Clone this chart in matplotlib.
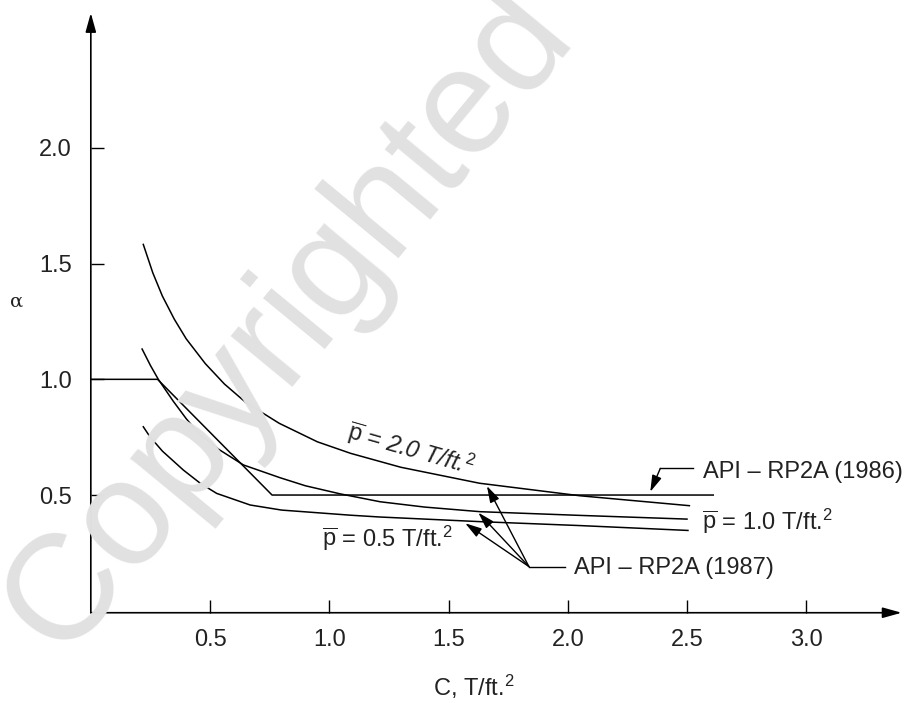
import matplotlib
matplotlib.use("Agg")
import matplotlib.pyplot as plt

plt.rcParams["font.family"] = ["Liberation Sans", "DejaVu Sans"]
plt.rcParams["mathtext.fontset"] = "custom"
plt.rcParams["mathtext.rm"] = "Liberation Sans"
plt.rcParams["mathtext.it"] = "Liberation Sans:italic"
plt.rcParams["mathtext.bf"] = "Liberation Sans:bold"

# Adhesion factor alpha versus undrained shear strength C (T/ft^2)
c_p20 = [0.22, 0.26, 0.30, 0.35, 0.40, 0.48, 0.56, 0.65, 0.79, 0.95, 1.09, 1.30, 1.63, 2.05, 2.51]
a_p20 = [1.583, 1.46, 1.36, 1.26, 1.175, 1.068, 0.98, 0.90, 0.81, 0.73, 0.68, 0.62, 0.551, 0.497, 0.454]

c_p10 = [0.215, 0.25, 0.283, 0.346, 0.40, 0.458, 0.54, 0.64, 0.793, 0.90, 1.046, 1.213, 1.40, 1.633, 2.052, 2.50]
a_p10 = [1.131, 1.06, 1.0, 0.905, 0.83, 0.76, 0.695, 0.630, 0.575, 0.54, 0.505, 0.471, 0.448, 0.428, 0.412, 0.396]

c_p05 = [0.22, 0.248, 0.30, 0.388, 0.46, 0.528, 0.668, 0.80, 1.087, 1.213, 1.633, 2.052, 2.504]
a_p05 = [0.795, 0.752, 0.69, 0.608, 0.55, 0.507, 0.457, 0.435, 0.413, 0.405, 0.385, 0.368, 0.347]

# API RP2A (1986) piecewise criterion
c_api86 = [0.0, 0.28, 0.76, 2.61]
a_api86 = [1.0, 1.0, 0.5, 0.5]

x_ticks = [0.5, 1.0, 1.5, 2.0, 2.5, 3.0]
y_ticks = [0.5, 1.0, 1.5, 2.0]

fig = plt.figure(figsize=(9.1, 7.03), dpi=100)
ax = fig.add_axes([0.0998, 0.1284, 0.891, 0.8531])
ax.set_xlim(0, 3.40)
ax.set_ylim(-0.0086, 2.583)

# faint watermark behind the plot
fig.text(288 / 910, 1 - 322 / 703, "Copyrighted", fontsize=108, color="#e1e1e1",
         rotation=50.5, ha="center", va="center", zorder=0,
         family="Liberation Sans")
ax.set_facecolor("none")

for s in ax.spines.values():
    s.set_visible(False)

arrow_kw = dict(arrowstyle="-|>,head_length=1.15,head_width=0.32",
                color="black", lw=1.2, shrinkA=0, shrinkB=0, mutation_scale=10)
ax.annotate("", xy=(1, 0), xytext=(0, 0), xycoords="axes fraction",
            textcoords="axes fraction", arrowprops=arrow_kw)
ax.annotate("", xy=(0, 1), xytext=(0, 0), xycoords="axes fraction",
            textcoords="axes fraction", arrowprops=arrow_kw)

FS = 17
ax.set_xticks(x_ticks)
ax.set_xticklabels([f"{v:.1f}" for v in x_ticks])
ax.set_yticks(y_ticks)
ax.set_yticklabels([f"{v:.1f}" for v in y_ticks])
ax.tick_params(direction="in", length=9.4, width=1.0, labelsize=FS,
               colors="black", labelcolor="#222222")
ax.tick_params(axis="x", pad=11.5)
ax.tick_params(axis="y", pad=13.5)

lw = 1.1
ax.plot(c_p20, a_p20, color="black", lw=lw)
ax.plot(c_p10, a_p10, color="black", lw=lw)
ax.plot(c_p05, a_p05, color="black", lw=lw)
ax.plot(c_api86, a_api86, color="black", lw=lw)

# curve labels
ax.text(1.343, 0.70, r"$\overline{\mathrm{p}}$ = 2.0 T/ft.$^{2}$", fontsize=FS,
        rotation=-16, ha="center", va="center", style="italic", color="#222222")
ax.text(2.562, 0.385, r"$\overline{\mathrm{p}}$ = 1.0 T/ft.$^{2}$", fontsize=FS,
        ha="left", va="center", color="#222222")
ax.text(1.243, 0.315, r"$\overline{\mathrm{p}}$ = 0.5 T/ft.$^{2}$", fontsize=FS,
        ha="center", va="center", color="#222222")

# API RP2A (1986) leader
ax.plot([2.527, 2.388], [0.615, 0.615], color="black", lw=1.0)
ax.annotate("", xy=(2.346, 0.514), xytext=(2.388, 0.615),
            arrowprops=dict(arrowstyle="-|>,head_length=1.0,head_width=0.3",
                            color="black", lw=1.0, shrinkA=0, shrinkB=0,
                            mutation_scale=10))
ax.text(2.568, 0.60, "API \u2013 RP2A (1986)", fontsize=FS, ha="left",
        va="center", color="#222222")

# API RP2A (1987) leaders to the three curves
hub = (1.837, 0.191)
ax.plot([hub[0], 1.99], [hub[1], hub[1]], color="black", lw=1.0)
for tip in [(1.661, 0.539), (1.625, 0.424), (1.570, 0.378)]:
    ax.annotate("", xy=tip, xytext=hub,
                arrowprops=dict(arrowstyle="-|>,head_length=1.0,head_width=0.3",
                                color="black", lw=1.0, shrinkA=0, shrinkB=0,
                                mutation_scale=10))
ax.text(2.027, 0.183, "API \u2013 RP2A (1987)", fontsize=FS, ha="left",
        va="center", color="#222222")

# axis titles
fig.text(474 / 910, 1 - 687 / 703, "C, T/ft.$^{2}$", fontsize=FS,
         ha="center", va="center", color="#222222")
fig.text(17 / 910, 1 - 302 / 703, "\u03b1", fontsize=14, ha="center",
         va="center", family="DejaVu Serif", color="#222222")

fig.savefig("out.png", dpi=100)
